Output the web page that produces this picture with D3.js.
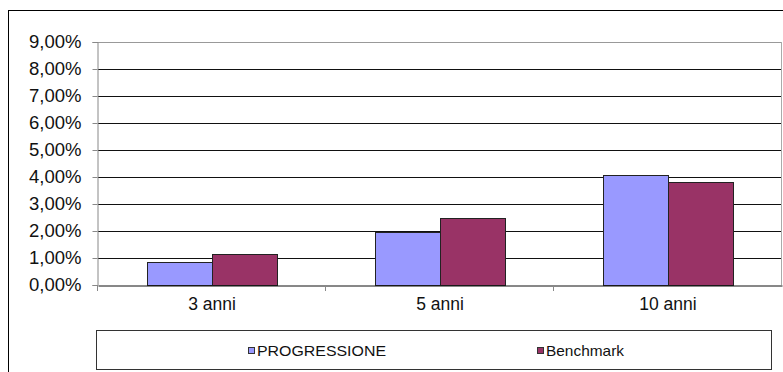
<!DOCTYPE html>
<html>
<head>
<meta charset="utf-8">
<script src="https://cdn.jsdelivr.net/npm/d3@7"></script>
<style>
  html, body { margin: 0; padding: 0; background: #fff; }
  svg { display: block; font-family: "Liberation Sans", Arial, sans-serif; }
  .ytick { font-size: 18.5px; }
  .xtick { font-size: 17.5px; }
  .legend-text { font-size: 15px; }
</style>
</head>
<body>
<svg id="chart" width="783" height="372"></svg>
<script>
// Periods and returns (fractions)
const categories = ["3 anni", "5 anni", "10 anni"];
const seriesNames = ["PROGRESSIONE", "Benchmark"];
const progressione = [0.0085, 0.0196, 0.0407];
const benchmark = [0.0116, 0.0249, 0.0383];
const yTicks = [0, 0.01, 0.02, 0.03, 0.04, 0.05, 0.06, 0.07, 0.08, 0.09];
const colors = ["#9999ff", "#993366"];

const rows = categories.map((c, i) => ({ cat: c, values: [progressione[i], benchmark[i]] }));

const svg = d3.select("#chart");
const W = 783, H = 372;
const plot = { left: 98, right: 782, top: 42, bottom: 285 };

// outer chart frame (extends past the visible page on right and bottom)
svg.append("rect")
  .attr("x", 8.5).attr("y", 10.5)
  .attr("width", W + 20).attr("height", H + 20)
  .attr("fill", "#fff").attr("stroke", "#000").attr("stroke-width", 1);

const y = d3.scaleLinear().domain([0, 0.09]).range([plot.bottom, plot.top]);
const x0 = d3.scaleBand().domain(categories).range([plot.left, plot.right]).padding(0);
const x1 = d3.scaleBand().domain(seriesNames).range([0, x0.bandwidth()])
  .paddingInner(0).paddingOuter(0.754);

const fmt = v => d3.format(".2f")(v * 100).replace(".", ",") + "%";

// horizontal gridlines
svg.append("g")
  .selectAll("line")
  .data(yTicks.slice(1))
  .join("line")
  .attr("x1", plot.left).attr("x2", plot.right)
  .attr("y1", d => Math.round(y(d)) + 0.5).attr("y2", d => Math.round(y(d)) + 0.5)
  .attr("stroke", d => d === 0.09 ? "#999" : "#111")
  .attr("stroke-width", 1);

// plot area right border
svg.append("line")
  .attr("x1", plot.right - 0.5).attr("x2", plot.right - 0.5)
  .attr("y1", plot.top).attr("y2", plot.bottom)
  .attr("stroke", "#aaa");

// bars
const groups = svg.append("g")
  .selectAll("g")
  .data(rows)
  .join("g")
  .attr("transform", d => `translate(${x0(d.cat)},0)`);

groups.selectAll("rect")
  .data(d => d.values.map((v, i) => ({ v, s: seriesNames[i], i })))
  .join("rect")
  .attr("x", d => Math.round(x1(d.s)) + 0.5)
  .attr("y", d => Math.round(y(d.v)) + 0.5)
  .attr("width", Math.round(x1.bandwidth()))
  .attr("height", d => Math.round(y(0)) - Math.round(y(d.v)))
  .attr("fill", d => colors[d.i])
  .attr("stroke", "#222")
  .attr("stroke-width", 1);

// y axis
const gy = svg.append("g")
  .attr("transform", `translate(${plot.left - 0.5},0)`)
  .call(d3.axisLeft(y).tickValues(yTicks).tickFormat(fmt).tickSize(5).tickPadding(11))
  .attr("font-size", null)
  .attr("font-family", null);
gy.select(".domain").attr("stroke", "#888");
gy.selectAll(".tick line").attr("stroke", "#888");
gy.selectAll(".tick text").attr("class", "ytick").attr("fill", "#111");

// x axis
const gx = svg.append("g")
  .attr("transform", `translate(0,${Math.round(y(0)) + 0.5})`)
  .call(d3.axisBottom(x0).tickSize(0).tickPadding(12))
  .attr("font-size", null)
  .attr("font-family", null);
gx.select(".domain").attr("stroke", "#111");
gx.selectAll(".tick text").attr("class", "xtick").attr("fill", "#111");

// category separator ticks
svg.append("g")
  .selectAll("line")
  .data(categories)
  .join("line")
  .attr("x1", d => x0(d) - 0.5).attr("x2", d => x0(d) - 0.5)
  .attr("y1", Math.round(y(0))).attr("y2", Math.round(y(0)) + 6)
  .attr("stroke", "#888");

// legend
const lg = svg.append("g");
lg.append("rect")
  .attr("x", 96.5).attr("y", 330.5)
  .attr("width", 675).attr("height", 39)
  .attr("fill", "#fff").attr("stroke", "#333");

const legendX = [248, 537];
const legendW = [129, 78];
seriesNames.forEach((name, i) => {
  lg.append("rect")
    .attr("x", legendX[i] + 0.5).attr("y", 347.5)
    .attr("width", 6).attr("height", 6)
    .attr("fill", colors[i]).attr("stroke", "#333");
  lg.append("text")
    .attr("class", "legend-text")
    .attr("x", legendX[i] + 9).attr("y", 355.5)
    .attr("fill", "#111")
    .attr("textLength", legendW[i])
    .attr("lengthAdjust", "spacingAndGlyphs")
    .text(name);
});
</script>
</body>
</html>
